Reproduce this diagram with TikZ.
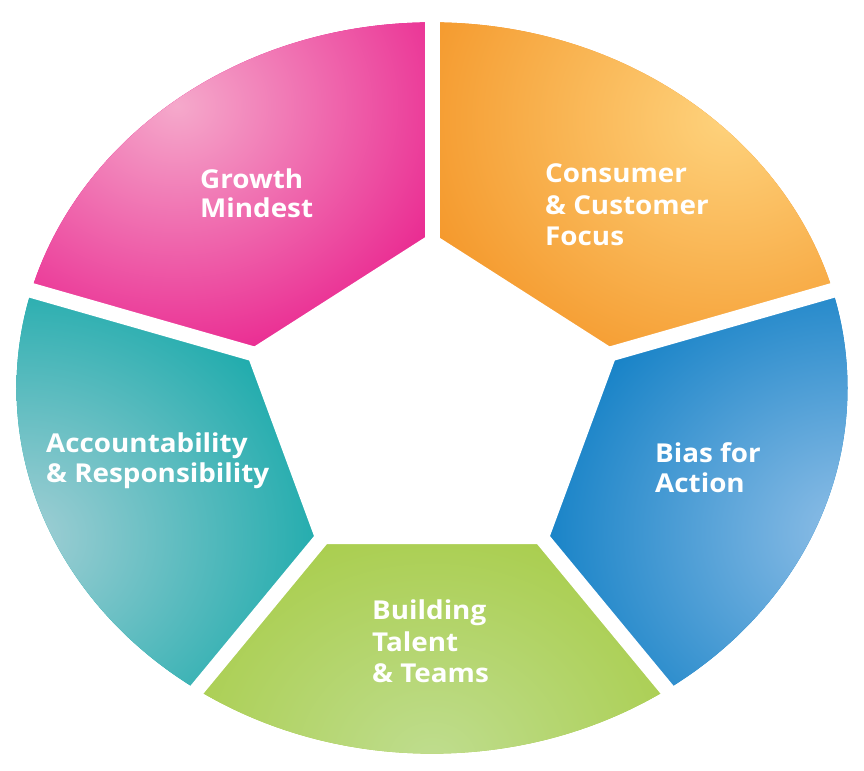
\documentclass[tikz,border=0pt]{standalone}
\usepackage{fontspec}
\setmainfont{Open Sans}[FakeStretch=1.07]
\definecolor{growthdark}{HTML}{E6007E}
\definecolor{growthlight}{HTML}{F5A9CB}
\definecolor{consumerdark}{HTML}{F39020}
\definecolor{consumerlight}{HTML}{FED27C}
\definecolor{biasdark}{HTML}{0479C2}
\definecolor{biaslight}{HTML}{90BFE7}
\definecolor{buildingdark}{HTML}{A3C93A}
\definecolor{buildinglight}{HTML}{BFDD8F}
\definecolor{accountdark}{HTML}{00A3A3}
\definecolor{accountlight}{HTML}{A3CFD5}

\tikzset{
	segtext/.style={text=white, font=\bfseries\fontsize{26}{#1}\selectfont, align=left, anchor=base west, inner sep=0pt},
	segtext/.default=30,
	gapline/.style={white, line width=15pt},
}

\begin{document}
\begin{tikzpicture}[x=1pt, y=0.88pt]
		\useasboundingbox[fill=white] (-432, -415.9) rectangle (432, 460.2);

		% Growth Mindest
		\begin{scope}
			\clip (0, 0) -- (90:600) -- (162:600) -- cycle;
			\clip (0, 19.3) circle [radius=415.5];
			\fill[growthdark] (-432, -416) rectangle (432, 460);
			\shade[inner color=growthlight, outer color=growthdark] (-255, 340) circle [radius=390];
		\end{scope}

		% Consumer & Customer Focus
		\begin{scope}
			\clip (0, 0) -- (18:600) -- (90:600) -- cycle;
			\clip (0, 19.3) circle [radius=415.5];
			\fill[consumerdark] (-432, -416) rectangle (432, 460);
			\shade[inner color=consumerlight, outer color=consumerdark] (295, 325) circle [radius=370];
		\end{scope}

		% Bias for Action
		\begin{scope}
			\clip (0, 0) -- (-54:600) -- (18:600) -- cycle;
			\clip (0, 19.3) circle [radius=415.5];
			\fill[biasdark] (-432, -416) rectangle (432, 460);
			\shade[inner color=biaslight, outer color=biasdark] (420, -145) circle [radius=360];
		\end{scope}

		% Building Talent & Teams
		\begin{scope}
			\clip (0, 0) -- (234:600) -- (306:600) -- cycle;
			\clip (0, 19.3) circle [radius=415.5];
			\fill[buildingdark] (-432, -416) rectangle (432, 460);
			\shade[inner color=buildinglight, outer color=buildingdark] (0, -405) circle [radius=360];
		\end{scope}

		% Accountability & Responsibility
		\begin{scope}
			\clip (0, 0) -- (162:600) -- (234:600) -- cycle;
			\clip (0, 19.3) circle [radius=415.5];
			\fill[accountdark] (-432, -416) rectangle (432, 460);
			\shade[inner color=accountlight, outer color=accountdark] (-410, -150) circle [radius=380];
		\end{scope}

		% gaps and hole
		\draw[gapline] (0, 0) -- (90:470);
		\draw[gapline] (0, 0) -- (18:470);
		\draw[gapline] (0, 0) -- (-54:470);
		\draw[gapline] (0, 0) -- (234:470);
		\draw[gapline] (0, 0) -- (162:470);
		\fill[white] (90:195.6) -- (162:195.6) -- (234:195.6) -- (306:195.6) -- (18:195.6) -- cycle;

		% base anchor sits on the last line
		\node[segtext=28.5] (growth) at (-232, 213.6) {Growth\\Mindest};
		\node[segtext=31.5] (consumer) at (113, 180.7) {Consumer\\\& Customer\\Focus};
		\node[segtext=30] (bias) at (223, -98.9) {Bias for\\Action};
		\node[segtext=31.5] (building) at (-60, -315.9) {Building\\Talent\\\& Teams};
		\node[segtext=30] (accountability) at (-386, -88.6) {Accountability\\\& Responsibility};
\end{tikzpicture}
\end{document}
